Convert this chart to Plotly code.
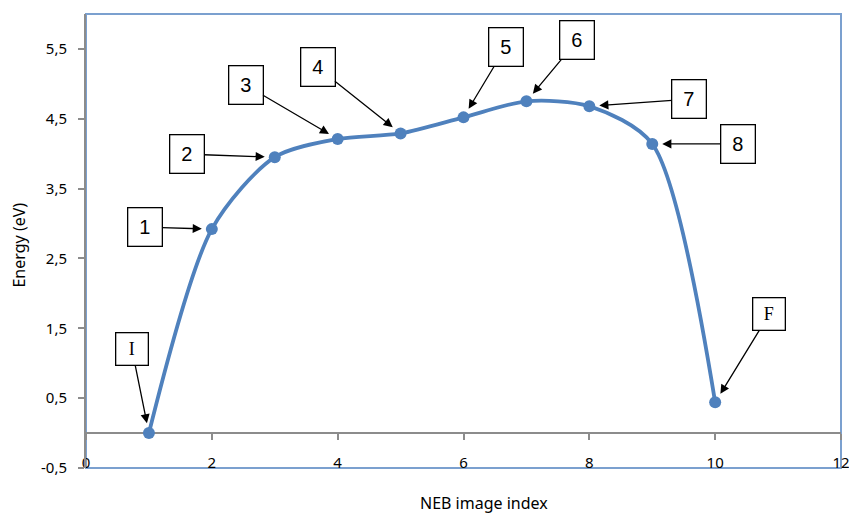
import plotly.graph_objects as go

image_index = [1, 2, 3, 4, 5, 6, 7, 8, 9, 10]
energy = [0.0, 2.92, 3.95, 4.21, 4.29, 4.52, 4.75, 4.68, 4.14, 0.44]
labels = ["I", "1", "2", "3", "4", "5", "6", "7", "8", "F"]
y_tick_vals = [-0.5, 0.5, 1.5, 2.5, 3.5, 4.5, 5.5]
y_tick_text = ["-0,5", "0,5", "1,5", "2,5", "3,5", "4,5", "5,5"]
x_tick_vals = [0, 2, 4, 6, 8, 10, 12]

# label box offsets (pixels) from each point
box_dx = [-17, -67, -88, -92, -83, 42, 51, 100, 86, 54]
box_dy = [-84, -2, -3, -54, -66, -70, -61, -7, 0, -88]

BLUE = "#4F81BD"
GREY = "#8C8C8C"
FONT = "Noto Sans"

fig = go.Figure()
fig.add_trace(go.Scatter(
    x=image_index, y=energy, mode="lines+markers",
    line=dict(color=BLUE, width=3.8, shape="spline", smoothing=0.8),
    marker=dict(color=BLUE, size=12), showlegend=False, hoverinfo="x+y"))
fig.add_trace(go.Scatter(x=[None], y=[None], xaxis="x2", yaxis="y",
                         showlegend=False, hoverinfo="skip"))
fig.add_trace(go.Scatter(x=[None], y=[None], xaxis="x3", yaxis="y",
                         showlegend=False, hoverinfo="skip"))

for xi, yi, lab, dx, dy in zip(image_index, energy, labels, box_dx, box_dy):
    serif = lab in ("I", "F")
    fig.add_annotation(
        x=xi, y=yi, text=lab, showarrow=True, ax=dx, ay=dy,
        arrowhead=2, arrowsize=1.4, arrowwidth=1.3, arrowcolor="black",
        standoff=10,
        font=dict(family="Liberation Serif" if serif else "Liberation Sans",
                  size=18 if serif else 20, color="black"),
        bgcolor="white", bordercolor="black", borderwidth=1.3,
        width=31 if serif else 33, height=31 if serif else 37, borderpad=0)

fig.add_shape(type="rect", xref="paper", yref="paper", x0=0, x1=1, y0=0, y1=1,
              line=dict(color="#7BA0CF", width=2), layer="below")

# axis titles
fig.add_annotation(text="NEB image index", xref="paper", yref="paper",
                   x=0.527, y=0, yshift=-35, xanchor="center", yanchor="middle",
                   showarrow=False, font=dict(family=FONT, size=16))
fig.add_annotation(text="Energy (eV)", xref="paper", yref="paper",
                   x=0, xshift=-67, y=0.49, xanchor="center", yanchor="middle",
                   textangle=-90, showarrow=False,
                   font=dict(family=FONT, size=16))

fig.update_layout(
    width=849, height=513, plot_bgcolor="white", paper_bgcolor="white",
    margin=dict(l=86, r=8, t=14, b=45, autoexpand=False),
    font=dict(family=FONT, size=15, color="black"),
    xaxis=dict(range=[0, 12], showticklabels=False, showline=False,
               showgrid=False, zeroline=False, ticks="", automargin=False),
    xaxis2=dict(range=[0, 12], overlaying="x", anchor="free",
                position=0.5 / 6.5, tickvals=x_tick_vals,
                showticklabels=False, showline=True, linecolor=GREY,
                linewidth=2, ticks="outside", ticklen=6, tickcolor=GREY,
                tickwidth=1.5, showgrid=False, zeroline=False,
                layer="below traces", automargin=False),
    xaxis3=dict(range=[0, 12], overlaying="x", anchor="free",
                position=16 / 454, tickvals=x_tick_vals,
                showticklabels=True, showline=False, ticks="",
                showgrid=False, zeroline=False, automargin=False,
                ticklabeloverflow="allow", layer="below traces"),
    yaxis=dict(range=[-0.5001, 6], tickvals=y_tick_vals, ticktext=y_tick_text,
               showline=True, linecolor=GREY, linewidth=2, ticks="outside",
               ticklen=6, tickcolor=GREY, tickwidth=1.5, showgrid=False,
               zeroline=False, ticklabelstandoff=8, automargin=False),
)

fig.write_html("out.html", config={"displayModeBar": False},
               post_script="document.body.style.margin='0px';")
